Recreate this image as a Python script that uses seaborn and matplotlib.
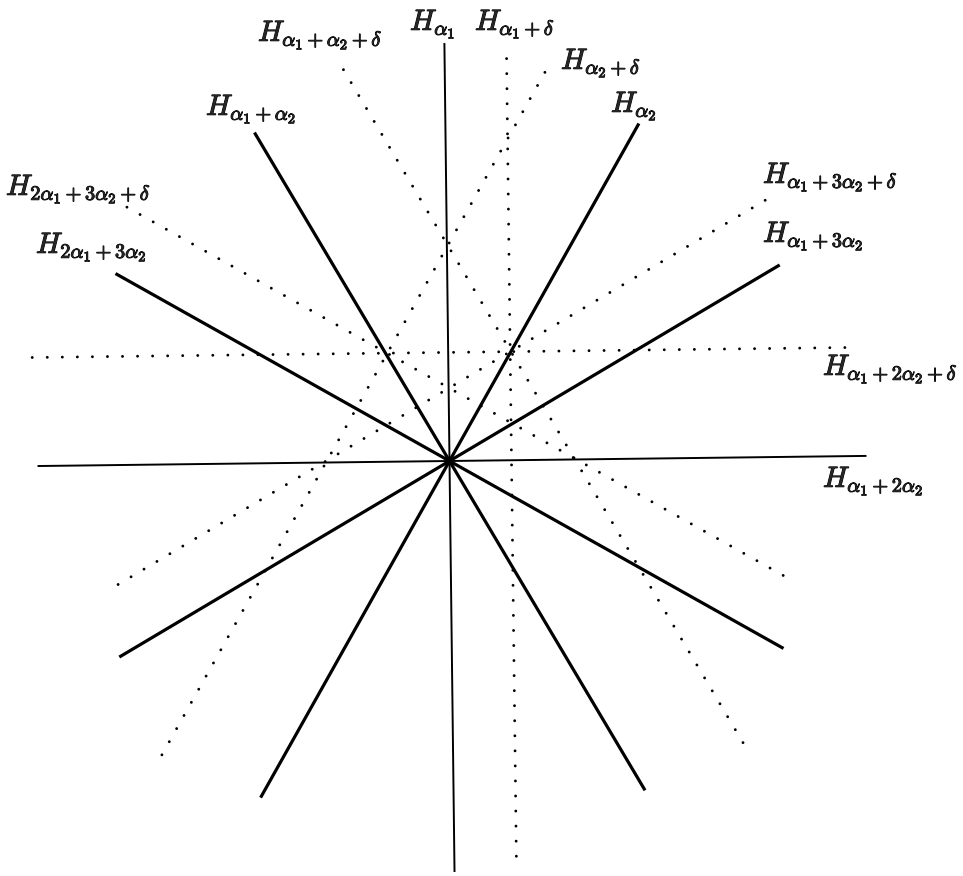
import numpy as np
import pandas as pd
import matplotlib.pyplot as plt
import matplotlib.patheffects as pe
import seaborn as sns

sns.set_style("white")
plt.rcParams["mathtext.fontset"] = "cm"

# ------------------------------
# hyperplanes of affine G2: root lines through the origin, and their delta-shifts
# ------------------------------
labels = [r"$H_{\alpha_1}$", r"$H_{\alpha_1+2\alpha_2}$", r"$H_{\alpha_2}$",
          r"$H_{\alpha_1+\alpha_2}$", r"$H_{\alpha_1+3\alpha_2}$", r"$H_{2\alpha_1+3\alpha_2}$",
          r"$H_{\alpha_1+\delta}$", r"$H_{\alpha_1+2\alpha_2+\delta}$", r"$H_{\alpha_2+\delta}$",
          r"$H_{\alpha_1+\alpha_2+\delta}$", r"$H_{\alpha_1+3\alpha_2+\delta}$",
          r"$H_{2\alpha_1+3\alpha_2+\delta}$"]
angles = [90, 0, 60, 120, 30, 150, 90, 0, 60, 120, 30, 150]       # direction, degrees
offsets = [0, 0, 0, 0, 0, 0, -62, 108.6, 107, -108.6, 63, -63.5]  # distance from origin
t_start = [-411, -412, -386, -383, -384, -383, -396, -416, -397, -392, -348, -347]
t_end = [418, 417, 387, 382, 384, 383, 409, 402, 395, 396, 414, 411]
affine = [False] * 6 + [True] * 6

# label anchors (left edge, baseline) in picture pixels
label_x = [410, 823, 611, 206, 763, 36, 475, 823, 561, 258, 763, 6]
label_y = [30, 487, 112, 115, 242, 253, 30, 375, 69, 41, 183, 195]

center = (449.5, 461)
tilt = 0.7  # the scan is a bit rotated

rows = []
for i, lab in enumerate(labels):
    th = np.radians(angles[i] + tilt)
    d = np.array([np.cos(th), np.sin(th)])
    n = np.array([-np.sin(th), np.cos(th)])
    for t in (t_start[i], t_end[i]):
        u, v = offsets[i] * n + t * d
        rows.append({"line": lab, "x": center[0] + u, "y": center[1] - v, "affine": affine[i]})
df = pd.DataFrame(rows)

fig = plt.figure(figsize=(9.63, 8.76), dpi=100)
ax = fig.add_axes([0, 0, 1, 1])

for i, lab in enumerate(labels):
    sub = df[df["line"] == lab]
    if affine[i]:
        sns.lineplot(data=sub, x="x", y="y", sort=False, estimator=None, ax=ax,
                     color="black", lw=2.1, linestyle=(0, (0.01, 5.15)),
                     dash_capstyle="round")
    else:
        lw = 1.4 if angles[i] in (0, 90) else 2.3
        sns.lineplot(data=sub, x="x", y="y", sort=False, estimator=None, ax=ax,
                     color="black", lw=lw, solid_capstyle="butt")

for i, lab in enumerate(labels):
    ax.text(label_x[i], label_y[i], lab, fontsize=21, ha="left", va="baseline",
            path_effects=[pe.withStroke(linewidth=0.7, foreground="black")])

ax.set_xlim(0, 963)
ax.set_ylim(876, 0)
ax.axis("off")

plt.savefig("out.png", dpi=100)
